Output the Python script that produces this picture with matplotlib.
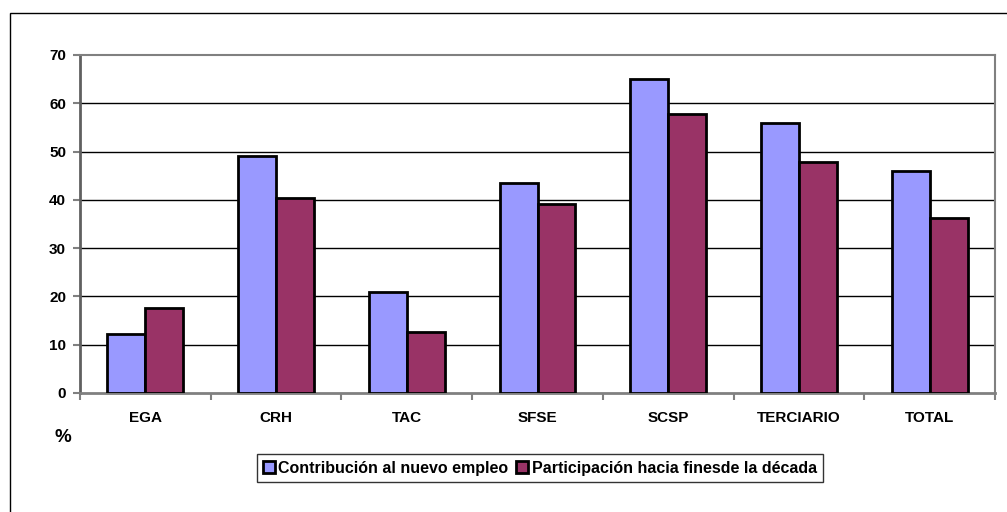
import numpy as np
import matplotlib.pyplot as plt
from matplotlib.patches import Rectangle

plt.rcParams['font.family'] = ['Liberation Sans', 'DejaVu Sans']

# Data
categories = ['EGA', 'CRH', 'TAC', 'SFSE', 'SCSP', 'TERCIARIO', 'TOTAL']
contribucion = [12.2, 49.0, 20.9, 43.5, 65.1, 55.9, 45.9]
participacion = [17.6, 40.4, 12.6, 39.1, 57.8, 47.9, 36.2]
series_names = ['Contribución al nuevo empleo', 'Participación hacia finesde la década']
yticks = [0, 10, 20, 30, 40, 50, 60, 70]

W, H = 1007, 512
fig = plt.figure(figsize=(W / 100, H / 100), dpi=100)

# outer chart frame (runs off right and bottom edge)
fig.patches.append(Rectangle((10 / W, -0.05), 1.2, 1 - 13 / H + 0.05,
                             transform=fig.transFigure, fill=False,
                             edgecolor='black', linewidth=1.0))

ax = fig.add_axes([80 / W, 1 - 393 / H, (995 - 80) / W, (393 - 55) / H])

x = np.arange(len(categories))
w = 0.29
ax.bar(x - w / 2, contribucion, w, color='#9999FF', edgecolor='black',
       linewidth=2, label=series_names[0], zorder=3)
ax.bar(x + w / 2, participacion, w, color='#993366', edgecolor='black',
       linewidth=2, label=series_names[1], zorder=3)

ax.set_xlim(-0.5, len(categories) - 0.5)
ax.set_ylim(0, 70)
ax.set_yticks(yticks)
ax.set_yticklabels([str(v) for v in yticks], fontsize=11, fontweight='bold')
for v in yticks[1:-1]:
    ax.axhline(v, color='black', linewidth=1, zorder=1)

ax.set_xticks(x)
ax.set_xticklabels(categories, fontsize=11, fontweight='bold')
ax.set_xticks(np.arange(-0.5, len(categories)), minor=True)
ax.tick_params(axis='x', which='major', length=0, pad=13)
ax.tick_params(axis='x', which='minor', length=5, color='#808080', width=1.5)
ax.tick_params(axis='y', length=5, color='#808080', width=1.5, pad=5)

for s in ['top', 'right']:
    ax.spines[s].set_color('#808080')
    ax.spines[s].set_linewidth(1.5)
ax.spines['left'].set_color('#606060')
ax.spines['left'].set_linewidth(2)
ax.spines['bottom'].set_color('#808080')
ax.spines['bottom'].set_linewidth(2)

fig.text(63 / W, 1 - 438 / H, '%', fontsize=13.5, fontweight='bold',
         ha='center', va='center')

leg = fig.legend(loc='center', bbox_to_anchor=(540 / W, 1 - 468 / H), ncol=2,
                 frameon=True, fancybox=False, handlelength=0.75,
                 handleheight=0.75, handletextpad=0.2, columnspacing=0.5,
                 borderpad=0.4, borderaxespad=0,
                 prop={'size': 11.5, 'weight': 'bold'})
leg.get_frame().set_edgecolor('black')
leg.get_frame().set_linewidth(1)
for h in leg.legend_handles:
    h.set_linewidth(2)

fig.savefig('out.png', dpi=100)
